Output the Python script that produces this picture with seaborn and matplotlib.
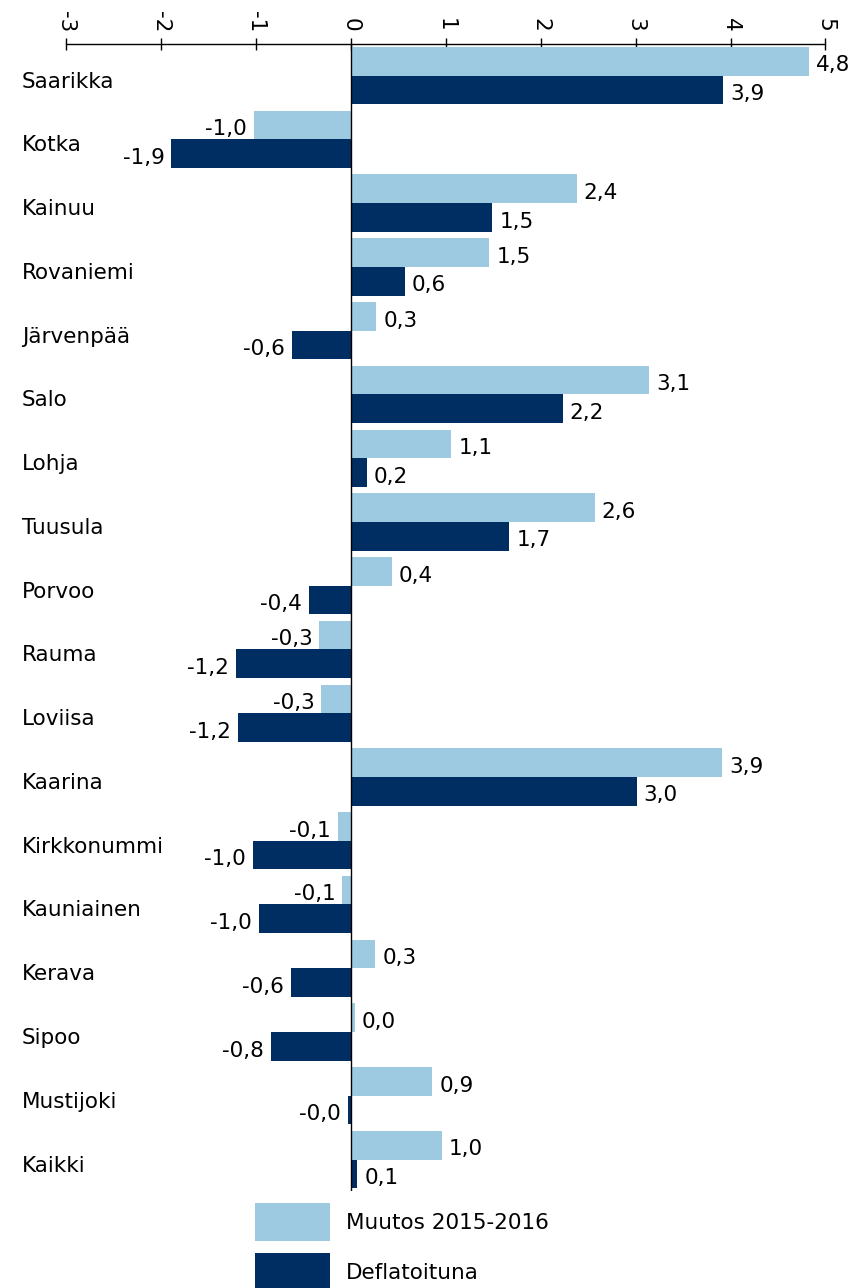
import matplotlib
matplotlib.use("Agg")
import matplotlib.pyplot as plt
import matplotlib.transforms as mtransforms
from matplotlib.patches import Patch
import seaborn as sns
import pandas as pd

sns.set_style("white")
plt.rcParams['font.family'] = ['DejaVu Sans']
plt.rcParams['axes.unicode_minus'] = False
plt.rcParams['text.color'] = "black"
plt.rcParams['xtick.color'] = "black"
plt.rcParams['ytick.color'] = "black"
plt.rcParams['axes.labelcolor'] = "black"

kunnat = ["Saarikka", "Kotka", "Kainuu", "Rovaniemi", "Järvenpää", "Salo", "Lohja",
          "Tuusula", "Porvoo", "Rauma", "Loviisa", "Kaarina", "Kirkkonummi",
          "Kauniainen", "Kerava", "Sipoo", "Mustijoki", "Kaikki"]
muutos = [4.83, -1.02, 2.38, 1.46, 0.27, 3.14, 1.06, 2.57, 0.43, -0.33, -0.31, 3.91,
          -0.14, -0.09, 0.26, 0.04, 0.86, 0.96]
deflatoituna = [3.92, -1.89, 1.49, 0.57, -0.62, 2.23, 0.17, 1.67, -0.44, -1.21, -1.19,
                3.01, -1.03, -0.97, -0.63, -0.84, -0.03, 0.07]
sarjat = ["Muutos 2015-2016", "Deflatoituna"]
varit = ["#9ECAE1", "#002D62"]

df = pd.DataFrame({
    "Kunta": kunnat * 2,
    "Arvo": muutos + deflatoituna,
    "Sarja": [sarjat[0]] * len(kunnat) + [sarjat[1]] * len(kunnat),
})

fs = 15.5

fig = plt.figure(figsize=(8.62, 12.88), dpi=100)
ax = fig.add_axes([0.0766, 0.075, 0.881, 0.891])

sns.barplot(data=df, y="Kunta", x="Arvo", hue="Sarja", order=kunnat, hue_order=sarjat,
            palette=varit, orient="h", width=0.9, saturation=1, errorbar=None,
            legend=False, linewidth=0, ax=ax)

# arvot palkkien päihin
for cont in ax.containers:
    vals = [bar.get_width() for bar in cont]
    labs = [f"{v:.1f}".replace(".", ",") for v in vals]
    anns = ax.bar_label(cont, labels=labs, padding=5, fontsize=fs)
    for a in anns:
        x, y = a.xyann
        a.xyann = (x, y - 3)

ax.set_xlim(-3, 5)
ax.set_xticks(range(-3, 6))
ax.xaxis.tick_top()
ax.tick_params(axis="x", direction="inout", length=9, width=1, labelsize=fs,
               labelrotation=270, pad=4, color="black")
ax.set_xlabel("")
ax.set_ylabel("")

ax.tick_params(axis="y", length=0, pad=31.7, labelsize=fs)
siirto = mtransforms.ScaledTranslation(0, -4 / 100, fig.dpi_scale_trans)
for lab in ax.get_yticklabels():
    lab.set_horizontalalignment("left")
    lab.set_transform(lab.get_transform() + siirto)

for s in ["left", "right", "bottom"]:
    ax.spines[s].set_visible(False)
ax.spines["top"].set_color("black")
ax.spines["top"].set_linewidth(1)
ax.axvline(0, color="black", lw=1)

handles = [Patch(facecolor=c, edgecolor="none", label=s) for c, s in zip(varit, sarjat)]
fig.legend(handles=handles, loc="upper left", bbox_to_anchor=(255 / 862, 1 - 1203 / 1288),
           frameon=False, fontsize=fs, handlelength=3.5, handleheight=2.35,
           labelspacing=0.56, handletextpad=0.72, borderpad=0, borderaxespad=0)

fig.savefig("out.png", dpi=100)
